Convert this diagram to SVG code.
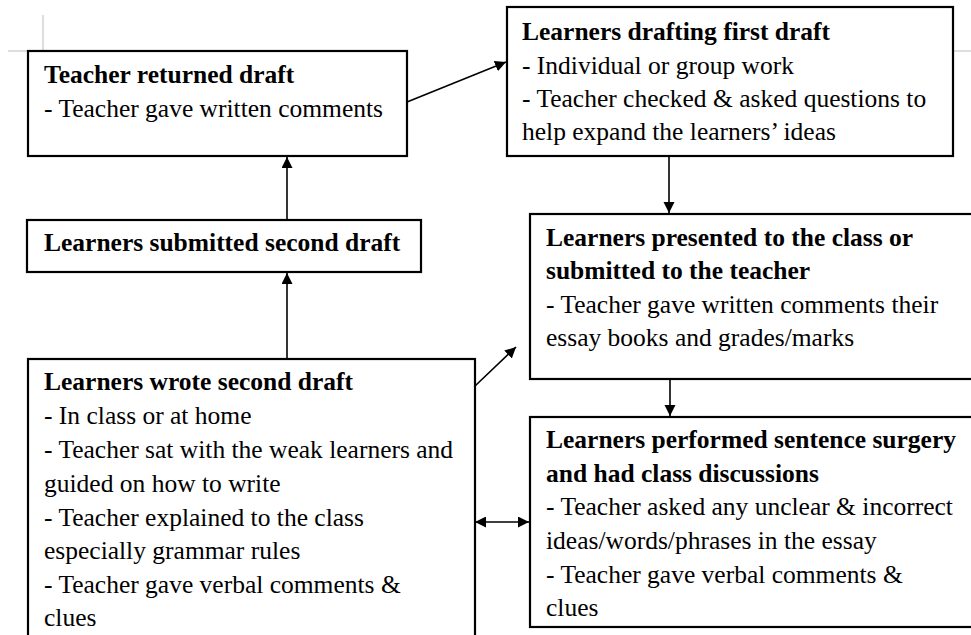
<svg xmlns="http://www.w3.org/2000/svg" width="971" height="635" viewBox="0 0 971 635">
<defs>
<style>
.box{fill:#fff;stroke:#000;stroke-width:2.2}
.t{font-family:"Liberation Serif","Times New Roman",serif;font-size:25.5px;fill:#000}
.b{font-weight:bold}
.c{stroke:#000;stroke-width:1.6;fill:none}
.m{stroke:#bdbdbd;stroke-width:1;fill:none}
</style>
<marker id="ah" markerWidth="12" markerHeight="12" refX="11" refY="5.5" orient="auto" markerUnits="userSpaceOnUse">
<path d="M0,0 L11,5.5 L0,11 z" fill="#000"/>
</marker>
<marker id="as" markerWidth="12" markerHeight="12" refX="1" refY="5.5" orient="auto" markerUnits="userSpaceOnUse">
<path d="M11,0 L0,5.5 L11,11 z" fill="#000"/>
</marker>
</defs>
<rect width="971" height="635" fill="#fff"/>
<g id="margins">
<path class="m" d="M8,51 H28 M43,15 V51 M953,51 H971"/>
</g>
<g id="connectors">
<path class="c" d="M407,102 L506,62" marker-end="url(#ah)"/>
<path class="c" d="M669,156 V213" marker-end="url(#ah)"/>
<path class="c" d="M287,220 V157" marker-end="url(#ah)"/>
<path class="c" d="M287,359 V273" marker-end="url(#ah)"/>
<path class="c" d="M475,386 L516,347" marker-end="url(#ah)"/>
<path class="c" d="M670,379 V416" marker-end="url(#ah)"/>
<path class="c" d="M476,522 H529" marker-start="url(#as)" marker-end="url(#ah)"/>
</g>
<g id="n1">
<rect class="box" x="28" y="51" width="379" height="105"/>
<text class="t b" x="44" y="83">Teacher returned draft</text>
<text class="t" x="44" y="117">- Teacher gave written comments</text>
</g>
<g id="n2">
<rect class="box" x="507" y="7" width="446" height="149"/>
<text class="t b" x="522" y="40">Learners drafting first draft</text>
<text class="t" x="522" y="74">- Individual or group work</text>
<text class="t" x="522" y="107">- Teacher checked &amp; asked questions to</text>
<text class="t" x="522" y="140">help expand the learners’ ideas</text>
</g>
<g id="n3">
<rect class="box" x="27" y="220" width="394" height="52"/>
<text class="t b" x="44" y="251">Learners submitted second draft</text>
</g>
<g id="n4">
<rect class="box" x="530" y="214" width="460" height="165"/>
<text class="t b" x="546" y="246">Learners presented to the class or</text>
<text class="t b" x="546" y="279">submitted to the teacher</text>
<text class="t" x="546" y="313">- Teacher gave written comments their</text>
<text class="t" x="546" y="346">essay books and grades/marks</text>
</g>
<g id="n5">
<rect class="box" x="530" y="417" width="460" height="210"/>
<text class="t b" x="546" y="448">Learners performed sentence surgery</text>
<text class="t b" x="546" y="482">and had class discussions</text>
<text class="t" x="546" y="515">- Teacher asked any unclear &amp; incorrect</text>
<text class="t" x="546" y="549">ideas/words/phrases in the essay</text>
<text class="t" x="546" y="583">- Teacher gave verbal comments &amp;</text>
<text class="t" x="546" y="616">clues</text>
</g>
<g id="n6">
<rect class="box" x="28" y="359" width="447" height="300"/>
<text class="t b" x="44" y="390">Learners wrote second draft</text>
<text class="t" x="44" y="424">- In class or at home</text>
<text class="t" x="44" y="458">- Teacher sat with the weak learners and</text>
<text class="t" x="44" y="492">guided on how to write</text>
<text class="t" x="44" y="526">- Teacher explained to the class</text>
<text class="t" x="44" y="559">especially grammar rules</text>
<text class="t" x="44" y="593">- Teacher gave verbal comments &amp;</text>
<text class="t" x="44" y="626">clues</text>
</g>
</svg>
